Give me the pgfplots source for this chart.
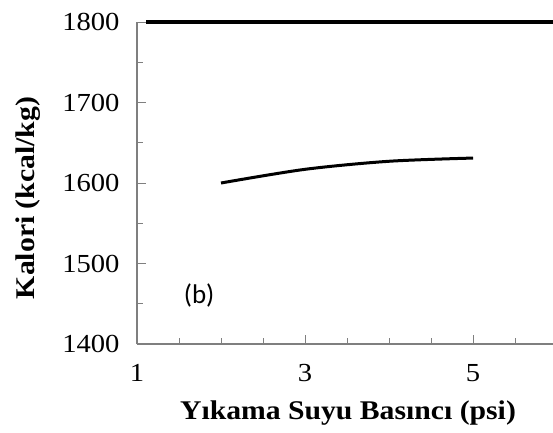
\documentclass[border=0pt]{standalone}
\usepackage{pgfplots}
\pgfplotsset{compat=1.18}
\usepackage{fontspec}
\setmainfont{Liberation Serif}
\newfontfamily\tickfont[FakeStretch=1.1]{Liberation Serif}
\newfontfamily\labelfont[FakeStretch=1.1]{Liberation Serif}
\newfontfamily\panelfont{Carlito}
\definecolor{axisgray}{HTML}{7F7F7F}
\begin{document}
\begin{tikzpicture}[x=1pt,y=1pt]
\useasboundingbox (-137,-88) rectangle (416,344);
\begin{axis}[
  at={(0,0)}, anchor=south west,
  scale only axis, width=416pt, height=322pt,
  xmin=1, xmax=5.952, ymin=1400, ymax=1800,
  axis x line*=bottom, axis y line*=left,
  axis line style={axisgray, line width=1.1pt, -},
  xtick={1,3,5}, minor xtick={1.5,2,2.5,3.5,4,4.5,5.5},
  ytick={1400,1500,1600,1700,1800}, minor ytick={1450,1550,1650,1750},
  tick align=inside,
  major tick length=9pt, minor tick length=6pt,
  tick style={axisgray, line width=0.9pt},
  /pgf/number format/assume math mode=true,
  /pgf/number format/1000 sep={},
  ticklabel style={font=\tickfont\fontsize{26}{26}\selectfont, black},
  xticklabel style={yshift=-17pt},
  yticklabel style={xshift=-14pt},
  clip=false,
]
% upper reference line at 1800
\addplot[black, line width=3.6pt] coordinates {(1.11,1800) (5.952,1800)};
% calorific value against washing water pressure
\addplot[black, line width=3pt, smooth] coordinates {
  (2,1600) (3,1617) (4,1627) (5,1631)
};
\node[font=\panelfont\fontsize{27}{27}\selectfont] at (axis cs:1.74,1460) {(b)};
\end{axis}
\node[font=\labelfont\bfseries\fontsize{27}{27}\selectfont] at (211,-69) {Yıkama Suyu Basıncı (psi)};
\node[font=\labelfont\bfseries\fontsize{27}{27}\selectfont, rotate=90] at (-109,146) {Kalori (kcal/kg)};
\end{tikzpicture}
\end{document}
